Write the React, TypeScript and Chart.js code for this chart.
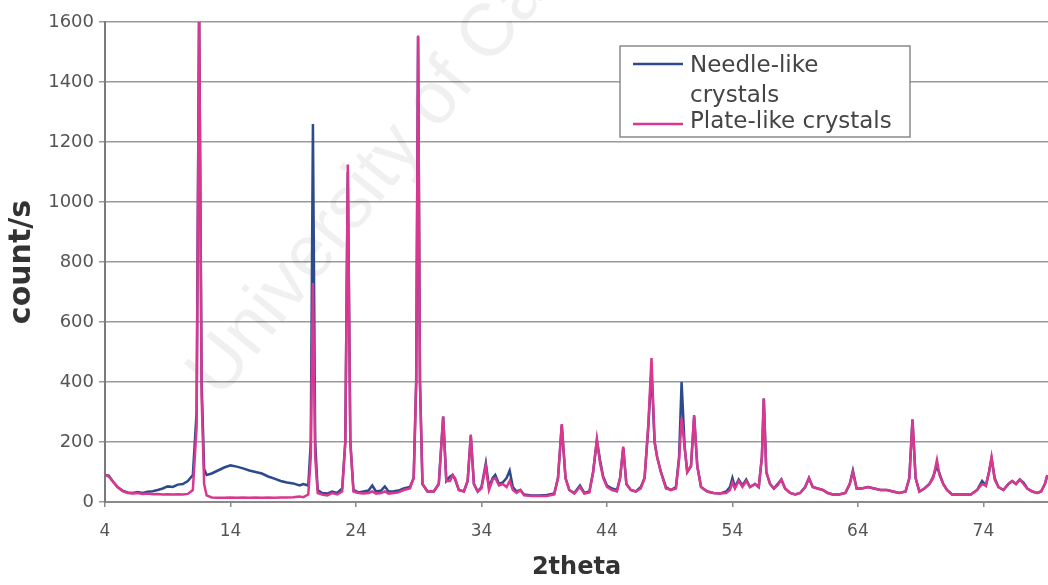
import React, { useEffect, useRef } from 'react';
import { Chart, registerables } from 'chart.js';

Chart.register(...registerables);

// 2theta sample positions shared by both series
const twoTheta = [
  4.0, 4.3, 4.6, 5.0, 5.4, 5.8, 6.2, 6.6, 7.0, 7.4, 7.8, 8.2, 8.6, 9.0, 9.4, 9.8, 10.2, 10.6, 11.0, 11.3,
  11.5, 11.7, 11.9, 12.1, 12.5, 13.0, 13.5, 14.0, 14.5, 15.0, 15.5, 16.0, 16.5, 17.0, 17.5, 18.0, 18.5, 19.0, 19.5, 19.8,
  20.2, 20.4, 20.57, 20.75, 20.95, 21.3, 21.7, 22.1, 22.5, 22.9, 23.15, 23.35, 23.55, 23.8, 24.2, 24.6, 25.0, 25.3, 25.6, 26.0,
  26.3, 26.6, 27.0, 27.4, 27.8, 28.3, 28.6, 28.8, 28.95, 29.1, 29.3, 29.7, 30.2, 30.6, 30.95, 31.2, 31.5, 31.7, 31.9, 32.2,
  32.6, 32.9, 33.15, 33.4, 33.7, 34.0, 34.35, 34.6, 34.9, 35.1, 35.4, 35.7, 36.0, 36.25, 36.5, 36.8, 37.1, 37.4, 38.0, 38.6,
  39.2, 39.8, 40.1, 40.4, 40.7, 41.0, 41.4, 41.85, 42.2, 42.6, 42.9, 43.2, 43.45, 43.7, 44.0, 44.4, 44.8, 45.05, 45.3, 45.55,
  45.9, 46.3, 46.7, 47.0, 47.3, 47.55, 47.8, 48.0, 48.3, 48.7, 49.1, 49.5, 49.75, 49.95, 50.2, 50.4, 50.7, 50.95, 51.2, 51.5,
  52.0, 52.5, 53.0, 53.5, 53.8, 54.0, 54.2, 54.5, 54.8, 55.1, 55.4, 55.8, 56.1, 56.35, 56.5, 56.7, 57.0, 57.3, 57.6, 57.9,
  58.2, 58.6, 59.0, 59.4, 59.8, 60.1, 60.4, 60.8, 61.2, 61.6, 62.0, 62.5, 63.0, 63.35, 63.6, 63.9, 64.3, 64.8, 65.3, 65.8,
  66.3, 66.8, 67.3, 67.8, 68.1, 68.35, 68.6, 68.9, 69.3, 69.7, 70.0, 70.3, 70.5, 70.8, 71.1, 71.5, 72.0, 72.5, 73.0, 73.5,
  73.9, 74.2, 74.45, 74.65, 74.9, 75.2, 75.6, 76.0, 76.3, 76.6, 76.9, 77.2, 77.5, 77.9, 78.3, 78.6, 78.9, 79.1,
];

// Needle-like crystals (count/s)
const needle = [
  90, 88, 70, 50, 38, 32, 30, 33, 30, 34, 36, 40, 45, 52, 50, 58, 60, 70, 90, 300,
  1650, 400, 110, 90, 95, 105, 115, 122, 118, 112, 105, 100, 95, 85, 78, 70, 65, 62, 55, 60,
  55, 200, 1260, 200, 40, 30, 28, 35, 30, 45, 200, 1100, 200, 40, 32, 35, 38, 55, 35, 38,
  52, 35, 36, 38, 45, 50, 80, 400, 1550, 400, 60, 35, 35, 60, 285, 70, 85, 90, 75, 40,
  35, 70, 220, 60, 35, 50, 130, 50, 80, 90, 60, 65, 80, 105, 50, 35, 40, 25, 22, 22,
  23, 28, 80, 255, 80, 40, 30, 55, 30, 35, 100, 205, 140, 85, 55, 45, 40, 80, 180, 60,
  40, 35, 50, 80, 250, 440, 200, 150, 100, 50, 40, 50, 150, 400, 180, 100, 120, 285, 120, 50,
  35, 30, 28, 35, 50, 80, 50, 75, 55, 75, 50, 60, 50, 150, 345, 100, 60, 45, 60, 75,
  45, 30, 25, 30, 50, 80, 50, 45, 40, 30, 25, 25, 30, 60, 105, 45, 45, 50, 45, 40,
  40, 35, 30, 35, 80, 275, 80, 35, 45, 60, 85, 120, 95, 60, 40, 25, 25, 25, 25, 40,
  70, 55, 100, 145, 80, 50, 40, 60, 70, 60, 75, 65, 45, 35, 30, 35, 60, 90,
];

// Plate-like crystals (count/s)
const plate = [
  90, 85, 70, 50, 36, 30, 28, 30, 27, 28, 26, 27, 25, 26, 25, 26, 25, 27, 40, 250,
  1650, 350, 60, 22, 15, 14, 14, 15, 14, 15, 14, 15, 14, 15, 14, 15, 15, 16, 18, 16,
  25, 150, 730, 150, 30, 25, 22, 30, 25, 35, 200, 1125, 200, 35, 30, 28, 30, 35, 28, 30,
  35, 28, 30, 32, 40, 45, 80, 400, 1555, 400, 60, 35, 35, 60, 285, 70, 70, 90, 80, 40,
  35, 70, 225, 60, 35, 45, 120, 40, 75, 80, 55, 60, 50, 70, 40, 30, 40, 22, 20, 20,
  20, 25, 80, 260, 80, 40, 28, 50, 28, 32, 100, 210, 130, 80, 50, 40, 35, 80, 185, 60,
  40, 35, 45, 80, 260, 480, 200, 150, 100, 45, 40, 45, 140, 280, 180, 100, 120, 290, 120, 50,
  35, 30, 28, 30, 40, 65, 45, 70, 50, 70, 50, 60, 50, 150, 345, 100, 60, 45, 55, 75,
  45, 30, 25, 30, 50, 80, 50, 45, 40, 30, 25, 25, 30, 60, 100, 45, 45, 50, 45, 40,
  40, 35, 30, 35, 80, 275, 80, 35, 45, 60, 80, 140, 90, 60, 40, 25, 25, 25, 25, 40,
  60, 55, 100, 150, 75, 50, 40, 60, 70, 60, 75, 60, 45, 35, 30, 35, 60, 90,
];

const xTicks = [4, 14, 24, 34, 44, 54, 64, 74];
const yTicks = [0, 200, 400, 600, 800, 1000, 1200, 1400, 1600];
const seriesNames = ['Needle-like crystals', 'Plate-like crystals'];
const legendLines = [['Needle-like', 'crystals'], ['Plate-like crystals']];
const xTitle = '2theta';
const yTitle = 'count/s';
const watermark = 'University of Cape Town';

const NEEDLE_COLOR = '#2c4a8c';
const PLATE_COLOR = '#d93790';

const watermarkPlugin = {
  id: 'watermark',
  beforeDatasetsDraw(chart: any) {
    const ctx = chart.ctx;
    ctx.save();
    ctx.translate(220, 400);
    ctx.rotate((-51 * Math.PI) / 180);
    ctx.font = '74px "Liberation Sans", Arial, sans-serif';
    ctx.fillStyle = 'rgba(0,0,0,0.06)';
    ctx.textBaseline = 'alphabetic';
    ctx.fillText(watermark, 0, 0);
    ctx.restore();
  },
};

const legendPlugin = {
  id: 'boxLegend',
  afterDraw(chart: any) {
    const ctx = chart.ctx;
    ctx.save();
    const bx = 620, by = 46, bw = 290, bh = 91;
    ctx.fillStyle = '#ffffff';
    ctx.fillRect(bx, by, bw, bh);
    ctx.strokeStyle = '#8a8a8a';
    ctx.lineWidth = 1.5;
    ctx.strokeRect(bx, by, bw, bh);
    ctx.font = '23px "DejaVu Sans", Verdana, sans-serif';
    ctx.fillStyle = '#444444';
    ctx.textBaseline = 'middle';
    ctx.textAlign = 'left';
    const colors = [NEEDLE_COLOR, PLATE_COLOR];
    const lineYs = [64, 124];
    const textYs = [[66, 96], [122]];
    for (let i = 0; i < seriesNames.length; i++) {
      ctx.strokeStyle = colors[i];
      ctx.lineWidth = 2.5;
      ctx.beginPath();
      ctx.moveTo(633, lineYs[i]);
      ctx.lineTo(683, lineYs[i]);
      ctx.stroke();
      legendLines[i].forEach((t, j) => ctx.fillText(t, 690, textYs[i][j]));
    }
    ctx.restore();
  },
};

export default function App() {
  const canvasRef = useRef<HTMLCanvasElement | null>(null);

  useEffect(() => {
    if (!canvasRef.current) return;
    const chart = new Chart(canvasRef.current, {
      type: 'line',
      data: {
        datasets: [
          {
            label: seriesNames[1],
            data: twoTheta.map((x, i) => ({ x, y: plate[i] })),
            borderColor: PLATE_COLOR,
            borderWidth: 2.5,
            pointRadius: 0,
            tension: 0,
            order: 0,
          },
          {
            label: seriesNames[0],
            data: twoTheta.map((x, i) => ({ x, y: needle[i] })),
            borderColor: NEEDLE_COLOR,
            borderWidth: 2.5,
            pointRadius: 0,
            tension: 0,
            order: 1,
          },
        ],
      },
      options: {
        animation: false,
        responsive: true,
        maintainAspectRatio: false,
        layout: { padding: { top: 22, left: 0, right: 0, bottom: 0 } },
        plugins: { legend: { display: false }, tooltip: { enabled: false } },
        scales: {
          x: {
            type: 'linear',
            min: 4,
            max: 79.15,
            afterBuildTicks: (scale: any) => {
              scale.ticks = xTicks.map((v) => ({ value: v }));
            },
            afterFit: (scale: any) => {
              scale.height = 83;
            },
            grid: { drawOnChartArea: false, drawTicks: true, tickLength: 5, color: '#8a8a8a', lineWidth: 1.5 },
            border: { color: '#8a8a8a', width: 2 },
            ticks: {
              padding: 14,
              color: '#555555',
              font: { family: '"DejaVu Sans", Verdana, sans-serif', size: 17 },
              maxRotation: 0,
              callback: (v: any) => String(v),
            },
            title: {
              display: true,
              text: xTitle,
              color: '#333333',
              font: { family: '"DejaVu Sans", Verdana, sans-serif', size: 24, weight: 'bold' },
              padding: { top: 0, bottom: 3 },
            },
          },
          y: {
            type: 'linear',
            min: 0,
            max: 1600,
            afterBuildTicks: (scale: any) => {
              scale.ticks = yTicks.map((v) => ({ value: v }));
            },
            afterFit: (scale: any) => {
              scale.width = 105;
            },
            grid: { color: '#9a9a9a', lineWidth: 1.5, tickLength: 6 },
            border: { color: '#7a7a7a', width: 2 },
            ticks: {
              padding: 5,
              color: '#555555',
              font: { family: '"DejaVu Sans", Verdana, sans-serif', size: 18 },
              callback: (v: any) => String(v),
            },
            title: {
              display: true,
              text: yTitle,
              color: '#333333',
              font: { family: '"DejaVu Sans", Verdana, sans-serif', size: 30, weight: 'bold' },
              padding: { top: 4, bottom: 0 },
            },
          },
        },
      },
      plugins: [watermarkPlugin, legendPlugin],
    } as any);
    return () => chart.destroy();
  }, []);

  return (
    <div style={{ position: 'fixed', left: 0, top: 0, width: 1048, height: 585, background: '#ffffff' }}>
      <canvas ref={canvasRef} />
    </div>
  );
}
